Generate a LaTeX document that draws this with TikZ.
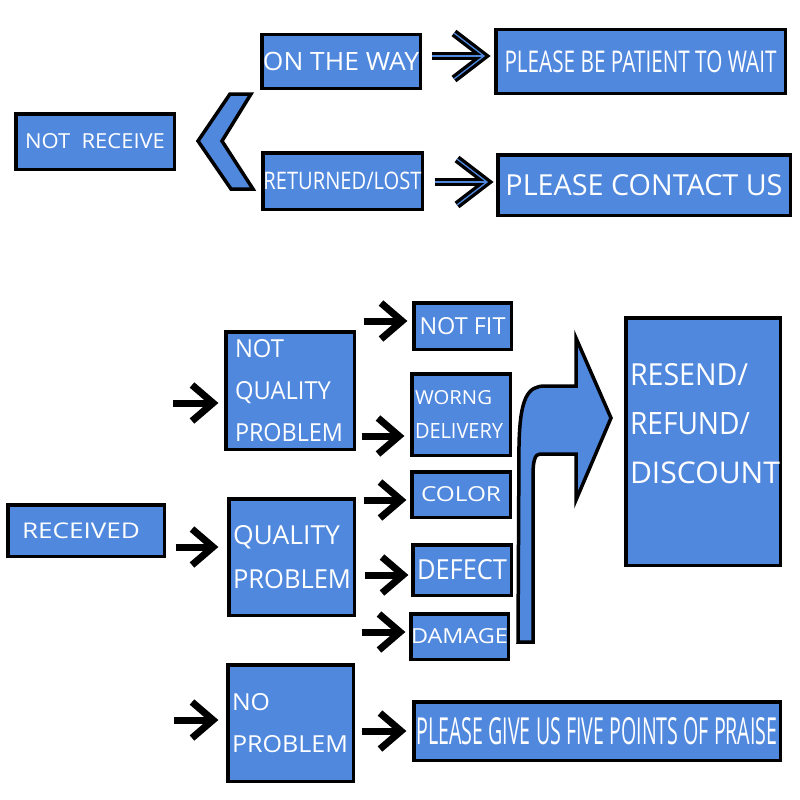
\documentclass[tikz,border=0pt]{standalone}
\usepackage{fontspec}
\setmainfont{Open Sans}
\usepackage{graphicx}
\usetikzlibrary{calc}
\definecolor{boxblue}{RGB}{80,136,222}
\newcommand{\fit}[3]{\resizebox{#1pt}{#2pt}{#3}}
\tikzset{
  box/.style={draw=black, line width=3.5pt, fill=boxblue, text=white, inner sep=0pt, align=center},
  lbox/.style={box, align=left},
  blkline/.style={draw=black, line width=7pt},
  dblout/.style={draw=black, line width=8pt, line join=miter},
  dblin/.style={draw=boxblue, line width=1.3pt, line join=miter},
  shapefill/.style={draw=black, line width=3.5pt, fill=boxblue, line join=miter}
}
\newcommand{\blkarrow}[2]{%
  \draw[blkline] (#1) -- (#2);
  \draw[blkline, line join=miter] (#2) ++(-21,-18) -- (#2) -- ++(-21,18);}
\newcommand{\dblarrow}[2]{%
  \draw[dblout] (#1) -- (#2);
  \draw[dblout] (#2) ++(-30,-23) -- (#2) -- ++(-30,23);
  \draw[dblin] (#1) -- (#2);
  \draw[dblin] (#2) ++(-30,-23) -- (#2) -- ++(-30,23);}
\begin{document}
\begin{tikzpicture}[x=1pt,y=-1pt]
\fill[white] (0,0) rectangle (800,800);
\useasboundingbox (0,0) rectangle (800,800);

% upper part
\node[box, minimum width=158.5pt, minimum height=55.5pt] (notrec) at (95,141.5) {\fit{140}{15}{NOT\ \ RECEIVE}};
\node[box, minimum width=158.5pt, minimum height=53.5pt] (ontheway) at (341,61.5) {\fit{156}{18.3}{ON THE WAY}};
\node[box, minimum width=159.5pt, minimum height=56.5pt] (retlost) at (342.5,181) {\fit{158}{17.5}{RETURNED/LOST}};
\node[box, minimum width=289.5pt, minimum height=63.5pt] (patient) at (640.5,61.5) {\fit{272}{21.7}{PLEASE BE PATIENT TO WAIT}};
\node[box, minimum width=292.5pt, minimum height=60.5pt] (contact) at (644,185) {\fit{277}{21}{PLEASE CONTACT US}};

\draw[shapefill] (230,94) -- (251,94) -- (222,141) -- (253,189) -- (231,189) -- (198,141) -- cycle;

\dblarrow{$(ontheway.east)+(9.5,-5.5)$}{$(patient.west)+(-10,-5.5)$}
\dblarrow{$(retlost.east)+(10.5,1)$}{$(contact.west)+(-9,-3)$}

% lower part
\node[lbox, minimum width=156.5pt, minimum height=51.5pt, text width=128pt, inner xsep=14.25pt] (received) at (86,530.5) {\fit{118}{15.7}{RECEIVED}};
\node[lbox, minimum width=128.5pt, minimum height=117.5pt, text width=110pt, inner xsep=9.25pt, font=\fontsize{20}{42}\selectfont] (nqp) at (290,390.5) {\fit{49}{18}{NOT}\\\fit{96}{18}{QUALITY}\\\fit{108}{18}{PROBLEM}};
\node[lbox, minimum width=125.5pt, minimum height=116.5pt, text width=117pt, inner xsep=4.25pt, font=\fontsize{20}{43.5}\selectfont] (qp) at (291.5,557) {\fit{107}{19}{QUALITY}\\\fit{118}{19}{PROBLEM}};
\node[lbox, minimum width=125.5pt, minimum height=116.5pt, text width=117pt, inner xsep=4.25pt, font=\fontsize{20}{42.5}\selectfont] (np) at (290.5,723) {\fit{38}{17}{NO}\\\fit{116}{17}{PROBLEM}};

\node[box, minimum width=97.5pt, minimum height=46.5pt] (notfit) at (462.5,326) {\fit{86}{17}{NOT FIT}};
\node[lbox, minimum width=98.5pt, minimum height=81.5pt, text width=92pt, inner xsep=3.25pt, font=\fontsize{16}{34}\selectfont] (worng) at (461,414.5) {\fit{77}{14}{WORNG}\\\fit{88}{15}{DELIVERY}};
\node[box, minimum width=98.5pt, minimum height=45.5pt] (color) at (461,494.5) {\fit{80}{15}{COLOR}};
\node[box, minimum width=98.5pt, minimum height=50.5pt] (defect) at (462,570) {\fit{90}{20}{DEFECT}};
\node[box, minimum width=97.5pt, minimum height=45.5pt] (damage) at (459.5,636.5) {\fit{97}{15}{DAMAGE}};

\node[lbox, minimum width=154.5pt, minimum height=247.5pt, text width=146pt, inner xsep=4.25pt, font=\fontsize{24}{49}\selectfont] (resend) at (703,441.5) {\fit{118}{22}{RESEND/}\\\fit{120}{22}{REFUND/}\\\fit{150}{21.7}{DISCOUNT}\\[-12pt]\mbox{}};
\node[box, minimum width=366.5pt, minimum height=58.5pt] (praise) at (597,731) {\fit{361}{27}{PLEASE GIVE US FIVE POINTS OF PRAISE}};

% big bent arrow
\draw[shapefill] (518,642) -- (519,445) .. controls (520,397) and (528,386) .. (545,386) -- (576,386) -- (576,338) -- (611,418) -- (576,500) -- (576,454) -- (540,454) .. controls (535,454) and (533,461) .. (533,475) -- (533,642) -- cycle;

% black arrows
\coordinate (in1) at (173,403);
\coordinate (in3) at (174,720);
\blkarrow{in1}{$(nqp.west)+(-11,12.5)$}
\blkarrow{$(received.east)+(9.5,16.5)$}{$(qp.west)+(-14,-10)$}
\blkarrow{in3}{$(np.west)+(-13,-3)$}
\blkarrow{$(nqp.east|-notfit.west)+(7.5,-5)$}{$(notfit.west)+(-10,-5)$}
\blkarrow{$(nqp.east|-worng.west)+(5.5,21.5)$}{$(worng.west)+(-11,21.5)$}
\blkarrow{$(qp.east|-color.west)+(7.5,5.5)$}{$(color.west)+(-9,5.5)$}
\blkarrow{$(qp.east|-defect.west)+(8.5,5)$}{$(defect.west)+(-8,5)$}
\blkarrow{$(qp.east|-damage.west)+(5.5,-4.5)$}{$(damage.west)+(-9,-4.5)$}
\blkarrow{$(np.east|-praise.west)+(6.5,0)$}{$(praise.west)+(-11,0)$}
\end{tikzpicture}
\end{document}
